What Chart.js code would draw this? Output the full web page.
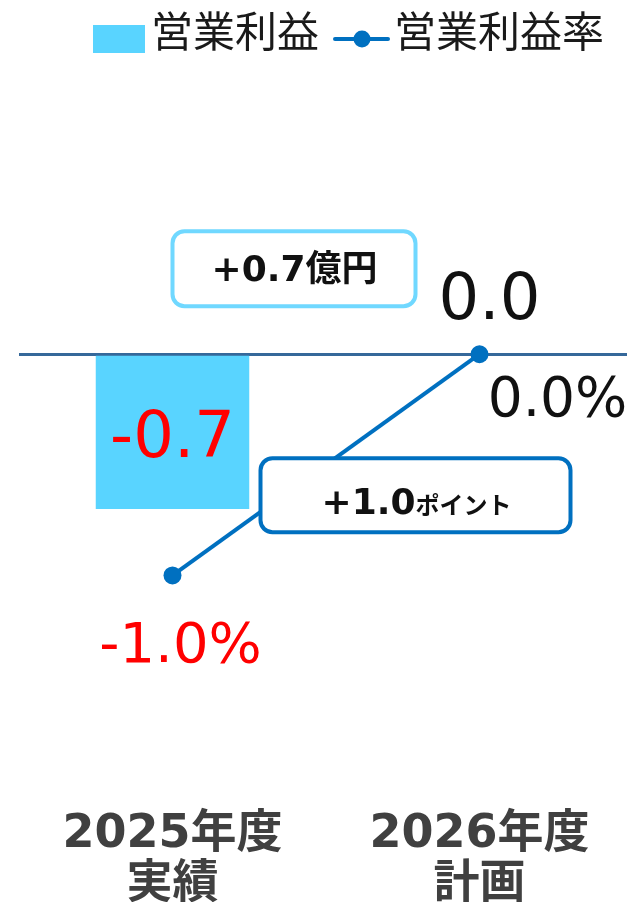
<!DOCTYPE html>
<html lang="ja">
<head>
<meta charset="utf-8">
<script src="https://cdn.jsdelivr.net/npm/chart.js@4/dist/chart.umd.min.js"></script>
<style>
  html, body { margin: 0; padding: 0; background: #fff; overflow: hidden; }
  canvas { display: block; }
</style>
</head>
<body>
<canvas id="chart" width="642" height="902"></canvas>
<script>
// 営業利益 / 営業利益率 — 2025年度実績 vs 2026年度計画

const categories = [['2025年度', '実績'], ['2026年度', '計画']];
const profit = [-0.7, 0.0];          // 営業利益（億円）
const margin = [-1.0, 0.0];          // 営業利益率（%）
const profitText = ['-0.7', '0.0'];
const marginText = ['-1.0%', '0.0%'];
const diffProfit = '+0.7億円';
const diffMargin = ['+1.0', 'ポイント'];

const BAR = '#59D4FF';
const LINE = '#0070C0';
const RED = '#FF0000';
const FONT = '"DejaVu Sans", "Noto Sans CJK JP", sans-serif';
const JP = '"Noto Sans CJK JP", sans-serif';

// ── 凡例 ──────────────────────────────────────────────────
const legendPlugin = {
  id: 'customLegend',
  afterDraw(chart) {
    const ctx = chart.ctx;
    const [bar, line] = chart.data.datasets;
    ctx.save();
    ctx.fillStyle = bar.backgroundColor;
    ctx.fillRect(93, 25, 52, 28);
    ctx.strokeStyle = line.borderColor;
    ctx.lineWidth = 4;
    ctx.lineCap = 'round';
    ctx.beginPath(); ctx.moveTo(335, 39); ctx.lineTo(388, 39); ctx.stroke();
    ctx.fillStyle = line.borderColor;
    ctx.beginPath(); ctx.arc(362, 39, 8.5, 0, Math.PI * 2); ctx.fill();
    ctx.fillStyle = '#1a1a1a';
    ctx.font = '42px ' + JP;
    ctx.textBaseline = 'middle';
    ctx.textAlign = 'left';
    ctx.fillText(bar.label, 151, 31);
    ctx.fillText(line.label, 394, 31);
    ctx.restore();
  }
};

// ── 数値ラベル・増減ボックス ──────────────────────────────
const labelPlugin = {
  id: 'valueLabels',
  afterDatasetsDraw(chart) {
    const ctx = chart.ctx;
    const xs = chart.scales.x, ys = chart.scales.y;
    const x0 = xs.getPixelForValue(0);
    const y0 = ys.getPixelForValue(0);
    ctx.save();
    ctx.textAlign = 'center';
    ctx.textBaseline = 'alphabetic';

    // 増減ボックス
    const box = (l, t, r, b, color) => {
      ctx.beginPath();
      ctx.roundRect(l, t, r - l, b - t, 12);
      ctx.fillStyle = '#fff';
      ctx.fill();
      ctx.lineWidth = 4;
      ctx.strokeStyle = color;
      ctx.stroke();
    };
    box(x0, y0 - 123, x0 + 243, y0 - 48, '#70D8FF');
    box(x0 + 88, y0 + 104, x0 + 398, y0 + 178, LINE);

    ctx.fillStyle = '#111';
    ctx.font = 'bold 36px ' + FONT;
    ctx.fillText(diffProfit, x0 + 122, y0 - 73);

    ctx.font = 'bold 36px ' + FONT;
    const w1 = ctx.measureText(diffMargin[0]).width;
    ctx.font = 'bold 24px ' + JP;
    const w2 = ctx.measureText(diffMargin[1]).width;
    const sx = x0 + 244 - (w1 + w2) / 2;
    ctx.textAlign = 'left';
    ctx.font = 'bold 36px ' + FONT;
    ctx.fillText(diffMargin[0], sx, y0 + 160);
    ctx.font = 'bold 24px ' + JP;
    ctx.fillText(diffMargin[1], sx + w1, y0 + 160);
    ctx.textAlign = 'center';

    // 営業利益
    chart.getDatasetMeta(0).data.forEach((el, i) => {
      ctx.font = '64px ' + FONT;
      if (profit[i] < 0) {
        ctx.fillStyle = RED;
        ctx.fillText(profitText[i], el.x, (el.y + el.base) / 2 + 25);
      } else {
        ctx.fillStyle = '#111';
        ctx.fillText(profitText[i], el.x + 10, el.base - 35);
      }
    });

    // 営業利益率
    chart.getDatasetMeta(1).data.forEach((el, i) => {
      if (margin[i] < 0) {
        ctx.font = '56px ' + FONT;
        ctx.fillStyle = RED;
        ctx.fillText(marginText[i], el.x + 8, el.y + 87);
      } else {
        ctx.font = '55px ' + FONT;
        ctx.fillStyle = '#111';
        ctx.fillText(marginText[i], el.x + 78, el.y + 62);
      }
    });
    ctx.restore();
  }
};

new Chart(document.getElementById('chart'), {
  data: {
    labels: categories,
    datasets: [
      { type: 'bar', label: '営業利益', data: profit, backgroundColor: BAR,
        barPercentage: 0.5, categoryPercentage: 1.0, order: 2 },
      { type: 'line', label: '営業利益率', data: margin, borderColor: LINE, backgroundColor: LINE,
        borderWidth: 4, pointRadius: 9, pointBorderWidth: 0, pointBackgroundColor: LINE, order: 1 }
    ]
  },
  options: {
    responsive: false, animation: false,
    layout: { padding: { top: 133, left: 19, right: 0, bottom: -21 } },
    plugins: { legend: { display: false }, tooltip: { enabled: false } },
    scales: {
      x: {
        grid: { display: false, drawTicks: false }, border: { display: false },
        ticks: { color: '#404040', padding: 13, font: { family: FONT, size: 46, weight: 'bold', lineHeight: 1.09 } }
      },
      y: {
        min: -2, max: 1,
        border: { display: false },
        grid: {
          drawTicks: false,
          color: (c) => c.tick && c.tick.value === 0 ? '#35689A' : 'transparent',
          lineWidth: (c) => c.tick && c.tick.value === 0 ? 3 : 0
        },
        ticks: { display: false, stepSize: 1 }
      }
    }
  },
  plugins: [legendPlugin, labelPlugin]
});
</script>
</body>
</html>
